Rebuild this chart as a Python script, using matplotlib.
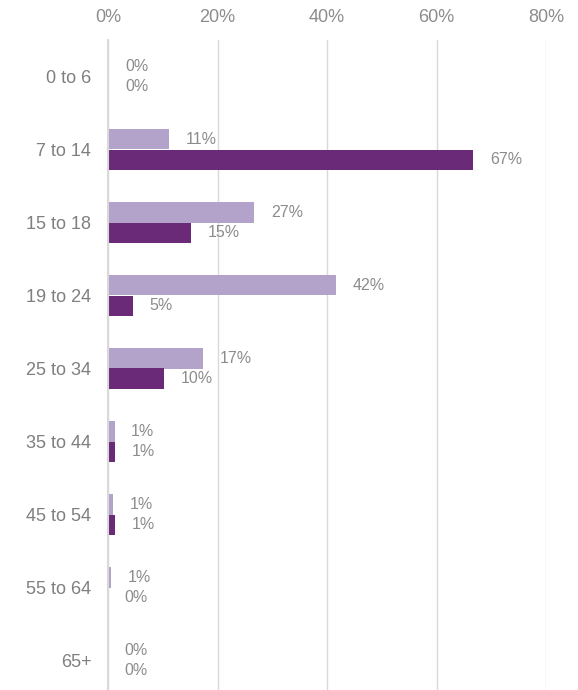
import matplotlib
matplotlib.use("Agg")
import matplotlib.pyplot as plt
import numpy as np

plt.rcParams["font.family"] = ["Liberation Sans", "DejaVu Sans"]

# age groups and shares (%)
ages = ["0 to 6", "7 to 14", "15 to 18", "19 to 24", "25 to 34",
        "35 to 44", "45 to 54", "55 to 64", "65+"]
light = [0.2, 11.2, 26.7, 41.6, 17.4, 1.2, 0.9, 0.6, 0.0]
dark = [0.1, 66.7, 15.1, 4.6, 10.3, 1.3, 1.3, 0.0, 0.0]
xticks = [0, 20, 40, 60, 80]

light_col = "#b3a2c9"
dark_col = "#6b2a77"
txt_col = "#8c8c8c"

fig = plt.figure(figsize=(5.78, 6.9), dpi=100)
ax = fig.add_axes([108 / 578, 0, 438 / 578, 650 / 690])

y = np.arange(len(ages))
h = 0.28
ax.barh(y - h / 2, light, height=h, color=light_col, zorder=3)
ax.barh(y + h / 2, dark, height=h, color=dark_col, zorder=3)

# value labels just right of each bar
for yi, v in zip(y - h / 2, light):
    ax.annotate(f"{v:.0f}%", (v, yi), xytext=(12, 0), textcoords="offset points",
                va="center", ha="left", fontsize=11.5, color=txt_col)
for yi, v in zip(y + h / 2, dark):
    ax.annotate(f"{v:.0f}%", (v, yi), xytext=(12, 0), textcoords="offset points",
                va="center", ha="left", fontsize=11.5, color=txt_col)

ax.set_xlim(0, 80)
ax.set_ylim(-0.5 + 650 / 73, -0.5)
ax.set_yticks(y)
ax.set_yticklabels(ages, fontsize=13, color="#7f7f7f")
ax.set_xticks(xticks)
ax.set_xticklabels([f"{t}%" for t in xticks], fontsize=13, color=txt_col)
ax.xaxis.tick_top()
ax.tick_params(length=0)
ax.tick_params(axis="x", pad=10)
ax.tick_params(axis="y", pad=12)

ax.grid(axis="x", color="#d9d9d9", linewidth=1, zorder=0)
for s in ["top", "right", "bottom"]:
    ax.spines[s].set_visible(False)
ax.spines["left"].set_color("#d9d9d9")
ax.spines["left"].set_linewidth(1.5)
ax.spines["left"].set_zorder(4)

fig.savefig("out.png", dpi=100)
